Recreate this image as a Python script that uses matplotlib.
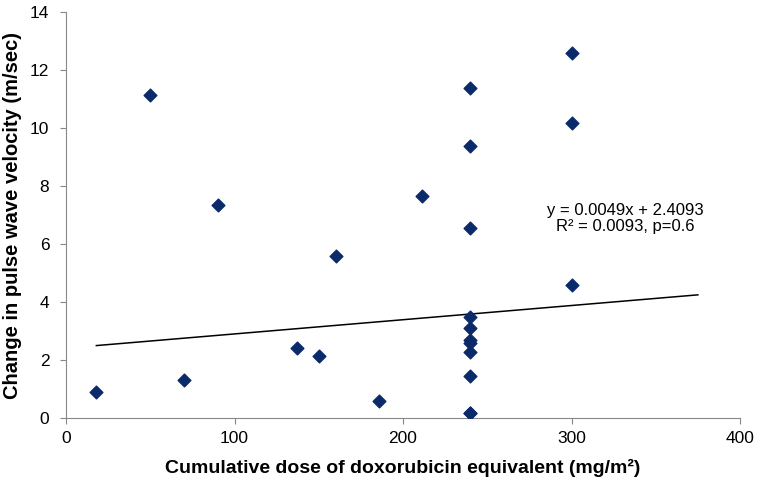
import matplotlib.pyplot as plt
import numpy as np

plt.rcParams['font.family'] = ['Liberation Sans', 'DejaVu Sans']

# cumulative dose (mg/m2) and change in pulse wave velocity (m/sec)
dose = [18, 50, 70, 90, 137, 150, 160, 186, 211,
        240, 240, 240, 240, 240, 240, 240, 240, 240, 240, 240,
        300, 300, 300]
pwv_change = [0.9, 11.15, 1.3, 7.35, 2.4, 2.15, 5.57, 0.6, 7.66,
              11.37, 9.38, 6.55, 3.5, 3.1, 2.7, 2.57, 2.28, 1.45, 0.18, 0.18,
              12.57, 10.18, 4.57]

# linear trendline reported in the figure
slope = 0.0049
intercept = 2.4093
trend_x = [18, 375]

x_ticks = [0, 100, 200, 300, 400]
y_ticks = [0, 2, 4, 6, 8, 10, 12, 14]

fig = plt.figure(figsize=(7.64, 4.86), dpi=100)
ax = fig.add_axes([0.0864, 0.1399, 0.8822, 0.8354])

ax.scatter(dose, pwv_change, marker='D', s=42, color='#0b2a6a', zorder=3)

tx = np.array(trend_x)
ax.plot(tx, slope * tx + intercept, color='black', lw=1.1, zorder=2)

ax.text(332, 6.88, 'y = 0.0049x + 2.4093\nR² = 0.0093, p=0.6',
        ha='center', va='center', fontsize=12, linespacing=1.1)

ax.set_xlim(0, 400)
ax.set_ylim(0, 14)
ax.set_xticks(x_ticks)
ax.set_yticks(y_ticks)
ax.tick_params(labelsize=12.5, color='#888888', length=4)
ax.tick_params(axis='y', pad=8)
ax.tick_params(axis='x', pad=5)

for side in ['top', 'right']:
    ax.spines[side].set_visible(False)
for side in ['left', 'bottom']:
    ax.spines[side].set_color('#888888')

ax.set_xlabel('Cumulative dose of doxorubicin equivalent (mg/m²)',
              fontsize=14, fontweight='bold', labelpad=10)
ax.set_ylabel('Change in pulse wave velocity (m/sec)',
              fontsize=14.5, fontweight='bold', labelpad=6)

fig.savefig('out.png', dpi=100)
